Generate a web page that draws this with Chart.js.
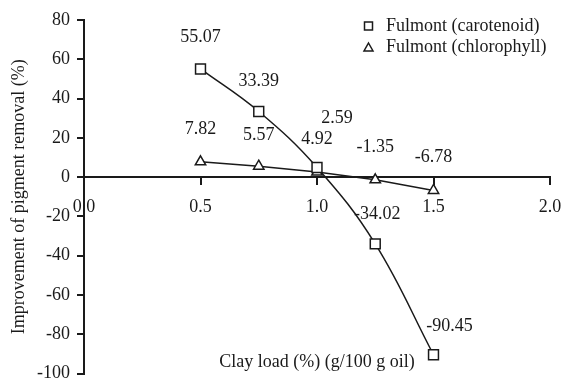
<!DOCTYPE html>
<html>
<head>
<meta charset="utf-8">
<script src="https://cdn.jsdelivr.net/npm/chart.js@4.4.1/dist/chart.umd.min.js"></script>
<style>
  html, body { margin: 0; padding: 0; background: #fff; }
  #wrap { width: 564px; height: 382px; }
</style>
</head>
<body>
<div id="wrap"><canvas id="pigmentChart"></canvas></div>
<script>
// data
const clayLoad = [0.5, 0.75, 1.0, 1.25, 1.5];
const carotenoid = [55.07, 33.39, 4.92, -34.02, -90.45];
const chlorophyll = [7.82, 5.57, 2.59, -1.35, -6.78];
const seriesNames = ['Fulmont (carotenoid)', 'Fulmont (chlorophyll)'];
const xTickValues = [0.0, 0.5, 1.0, 1.5, 2.0];
const yTickValues = [80, 60, 40, 20, 0, -20, -40, -60, -80, -100];

const ink = '#1a1a1a';
const serif = 'Liberation Serif, Times New Roman, serif';
const fontSize = 18;

// where each value label sits relative to its point (px)
const labelOffsets = [
    [[0, -32], [0, -30], [0, -28], [2, -30], [16, -28]],
    [[0, -32], [0, -31], [20, -54], [0, -32], [0, -33]]
];

const pointLabels = {
    id: 'pointLabels',
    afterDatasetsDraw(chart) {
        const ctx = chart.ctx;
        ctx.save();
        ctx.font = fontSize + 'px ' + serif;
        ctx.fillStyle = ink;
        ctx.textAlign = 'center';
        ctx.textBaseline = 'middle';
        chart.data.datasets.forEach((ds, i) => {
            const meta = chart.getDatasetMeta(i);
            meta.data.forEach((pt, j) => {
                const off = labelOffsets[i][j];
                ctx.fillText(ds.data[j].y.toFixed(2), pt.x + off[0], pt.y + off[1]);
            });
        });
        ctx.restore();
    }
};

const boxLegend = {
    id: 'boxLegend',
    afterDraw(chart) {
        const ctx = chart.ctx;
        ctx.save();
        ctx.font = fontSize + 'px ' + serif;
        ctx.fillStyle = ink;
        ctx.textBaseline = 'middle';
        chart.data.datasets.forEach((ds, i) => {
            const y = 26 + i * 21;
            ctx.lineWidth = 1.5;
            ctx.strokeStyle = ink;
            ctx.beginPath();
            if (ds.pointStyle === 'rect') {
                ctx.rect(364.5, y - 4, 8, 8);
            } else {
                ctx.moveTo(368.5, y - 4);
                ctx.lineTo(373, y + 4);
                ctx.lineTo(364, y + 4);
                ctx.closePath();
            }
            ctx.stroke();
            ctx.fillText(ds.label, 386, y);
        });
        ctx.restore();
    }
};

const xCaption = {
    id: 'xCaption',
    afterDraw(chart) {
        const ctx = chart.ctx;
        const area = chart.chartArea;
        ctx.save();
        ctx.font = fontSize + 'px ' + serif;
        ctx.fillStyle = ink;
        ctx.textAlign = 'center';
        ctx.textBaseline = 'middle';
        ctx.fillText('Clay load (%) (g/100 g oil)', (area.left + area.right) / 2, area.bottom - 11);
        ctx.restore();
    }
};

const ctx = document.getElementById('pigmentChart').getContext('2d');
new Chart(ctx, {
    type: 'line',
    data: {
        datasets: [{
            label: seriesNames[0],
            data: clayLoad.map((x, i) => ({ x: x, y: carotenoid[i] })),
            borderColor: ink,
            borderWidth: 1.5,
            tension: 0.4, // smooth curve as in the figure
            pointStyle: 'rect',
            pointRadius: 7,
            pointBackgroundColor: '#fff',
            pointBorderColor: ink,
            pointBorderWidth: 1.5
        },
        {
            label: seriesNames[1],
            data: clayLoad.map((x, i) => ({ x: x, y: chlorophyll[i] })),
            borderColor: ink,
            borderWidth: 1.5,
            tension: 0,
            pointStyle: 'triangle',
            pointRadius: 6,
            pointBackgroundColor: '#fff',
            pointBorderColor: ink,
            pointBorderWidth: 1.5
        }]
    },
    options: {
        responsive: true,
        maintainAspectRatio: false,
        animation: false,
        layout: { padding: { top: 20, right: 14, bottom: 8, left: 0 } },
        plugins: {
            legend: { display: false },
            tooltip: { enabled: false }
        },
        scales: {
            x: {
                type: 'linear',
                position: { y: 0 },
                min: 0,
                max: 2,
                afterBuildTicks: s => { s.ticks = xTickValues.map(v => ({ value: v })); },
                afterFit: s => { s.paddingLeft = 0; s.paddingRight = 0; },
                ticks: {
                    callback: v => Number(v).toFixed(1),
                    color: ink,
                    font: { family: serif, size: fontSize },
                    padding: 12,
                    maxRotation: 0
                },
                grid: { drawOnChartArea: false, drawTicks: true, tickLength: 7, color: ink, lineWidth: 2 },
                border: { display: true, color: ink, width: 2 }
            },
            y: {
                min: -100,
                max: 80,
                afterBuildTicks: s => { s.ticks = yTickValues.map(v => ({ value: v })); },
                afterFit: s => { s.width = 84; s.paddingTop = 0; s.paddingBottom = 0; },
                ticks: {
                    color: ink,
                    font: { family: serif, size: fontSize },
                    padding: 7
                },
                grid: { drawOnChartArea: false, drawTicks: true, tickLength: 7, color: ink, lineWidth: 2 },
                border: { display: true, color: ink, width: 2 },
                title: {
                    display: true,
                    text: 'Improvement of pigment removal (%)',
                    color: ink,
                    font: { family: serif, size: fontSize },
                    padding: { top: 8, bottom: 0 }
                }
            }
        }
    },
    plugins: [pointLabels, boxLegend, xCaption]
});
</script>
</body>
</html>
